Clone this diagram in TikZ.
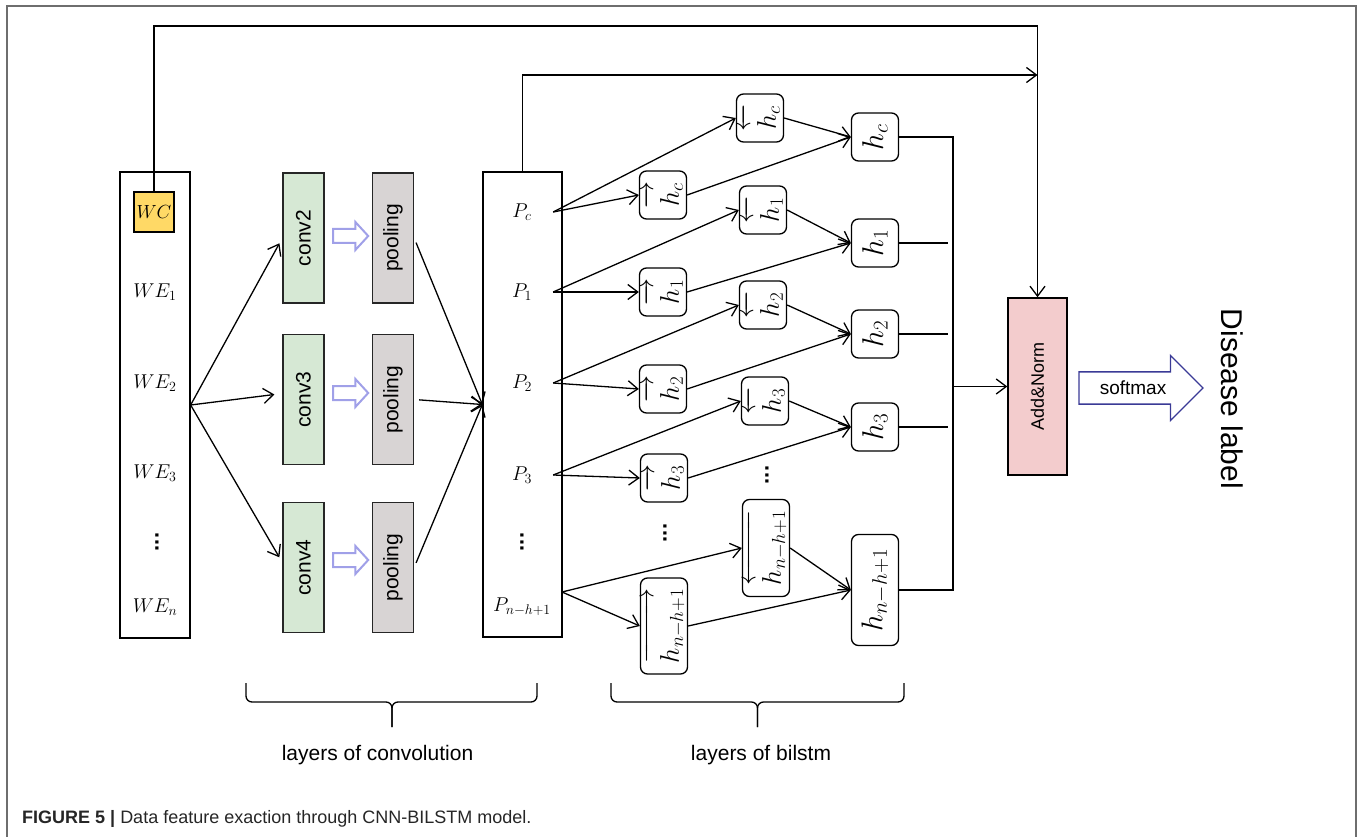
\RequirePackage{fix-cm}
\documentclass[tikz,border=0pt]{standalone}
\usepackage{amsmath}
\usepackage{graphicx}
\usepackage{fontspec}
\setmainfont{Liberation Sans}
\usetikzlibrary{arrows.meta,shapes.arrows,calc}

\definecolor{wcyellow}{RGB}{255,217,102}
\definecolor{convgreen}{RGB}{214,232,212}
\definecolor{poolgray}{RGB}{216,212,212}
\definecolor{normpink}{RGB}{243,204,205}
\definecolor{lavender}{RGB}{160,160,232}
\definecolor{softblue}{RGB}{58,58,150}
\definecolor{framegray}{RGB}{110,110,110}

\newcommand{\vtext}[1]{\rotatebox{90}{#1}}
\newcommand{\bwd}[1]{\rotatebox{90}{$\overleftarrow{\rule{0pt}{0.95em}#1}$}}
\newcommand{\fwd}[1]{\rotatebox{90}{$\overrightarrow{\rule{0pt}{0.95em}#1}$}}
\newcommand{\vdotsbig}{\rotatebox{90}{\textbf{...}}}

\tikzset{
  arr/.style={-{Straight Barb[length=10pt,width=15pt]},line width=1.3pt},
  wire/.style={line width=1.3pt},
  column/.style={draw,line width=1.3pt,inner sep=0pt},
  wcbox/.style={draw,line width=1.3pt,fill=wcyellow,minimum width=40pt,minimum height=40pt,inner sep=0pt,font=\fontsize{19}{22}\selectfont},
  mlab/.style={inner sep=0pt,font=\fontsize{20}{24}\selectfont},
  dotlab/.style={inner sep=0pt,font=\fontsize{22}{26}\selectfont},
  layer/.style={draw=black!85,line width=1.3pt,minimum width=41pt,minimum height=130pt,inner sep=0pt,font=\fontsize{21}{24}\selectfont},
  conv/.style={layer,fill=convgreen},
  pool/.style={layer,fill=poolgray},
  hollow/.style={single arrow,draw=lavender,fill=white,line width=2pt,minimum height=35pt,minimum width=26pt,inner sep=0pt,inner ysep=6pt,single arrow head extend=7pt,single arrow tip angle=95},
  cell/.style={draw,line width=1.3pt,rounded corners=7pt,minimum width=47pt,minimum height=48pt,inner sep=0pt,font=\fontsize{27}{30}\selectfont},
  outcell/.style={cell,font=\fontsize{30}{34}\selectfont},
  normbox/.style={draw,line width=1.5pt,fill=normpink,minimum width=59pt,minimum height=177pt,inner sep=0pt,font=\fontsize{18}{22}\selectfont},
  softarrow/.style={single arrow,draw=softblue,fill=white,line width=1.3pt,minimum height=124pt,minimum width=64pt,inner xsep=6pt,inner ysep=8.5pt,single arrow head extend=16.5pt,single arrow tip angle=90,font=\fontsize{19}{22}\selectfont},
  brace/.style={line width=1.3pt,rounded corners=6pt},
  caplab/.style={font=\fontsize{21}{24}\selectfont}
}

\begin{document}
\begin{tikzpicture}[x=1pt,y=-1pt]
    \useasboundingbox (0,0) rectangle (1363,837);
    % frame of the figure
    \draw[framegray,line width=1.5pt] (7,837) -- (7,6) -- (1356,6) -- (1356,837);

    % input column
    \node[column,minimum width=70pt,minimum height=466pt] (emb) at (155,405) {};
    \node[wcbox] (wc) at (154,212) {$WC$};
    \node[mlab] (we1) at (155,292) {$WE_1$};
    \node[mlab] (we2) at (155,383) {$WE_2$};
    \node[mlab] (we3) at (155,473) {$WE_3$};
    \node[dotlab] (wedots) at (157,542) {\vdotsbig};
    \node[mlab] (wen) at (155,607) {$WE_n$};

    % pooled features
    \node[column,minimum width=79pt,minimum height=465pt] (pcol) at (522.5,404.5) {};
    \node[mlab,minimum width=62pt] (pc) at (522,212) {$P_c$};
    \node[mlab,minimum width=62pt] (p1) at (522,292) {$P_1$};
    \node[mlab,minimum width=62pt] (pp2) at (522,383) {$P_2$};
    \node[mlab,minimum width=62pt] (pp3) at (522,475) {$P_3$};
    \node[dotlab] (pdots) at (522,542) {\vdotsbig};
    \node[mlab] (pn) at (522,607) {$P_{n-h+1}$};
    \coordinate (pnout) at (562,592);

    % convolution and pooling
    \node[conv] (c2) at (303.5,238) {\vtext{conv2}};
    \node[conv] (c3) at (303.5,399.5) {\vtext{conv3}};
    \node[conv] (c4) at (303.5,567.5) {\vtext{conv4}};
    \node[pool] (p2) at (393,238) {\vtext{pooling}};
    \node[pool] (p3) at (393,399.5) {\vtext{pooling}};
    \node[pool] (p4) at (393,567.5) {\vtext{pooling}};
    \node[hollow] (t2) at (347.5,236) {};
    \node[hollow] (t3) at (347.5,393) {};
    \node[hollow] (t4) at (347.5,560) {};

    \draw[arr,shorten >=6pt] (emb.east) -- (c2.west);
    \draw[arr,shorten >=8pt] (emb.east) -- ($(c3.west)+(0,-6)$);
    \draw[arr,shorten >=6pt] (emb.east) -- ($(c4.west)+(0,-5)$);
    \draw[arr,shorten <=5pt] (p2.east) -- (pcol.west);
    \draw[arr,shorten <=5pt] (p3.east) -- (pcol.west);
    \draw[arr,shorten <=5pt] (p4.east) -- (pcol.west);

    % bilstm cells
    \node[cell] (bc) at (760,118) {\bwd{h_c}};
    \node[cell] (fc) at (663,195) {\fwd{h_c}};
    \node[outcell] (oc) at (875,137) {\vtext{$h_c$}};
    \node[cell] (b1) at (763,210) {\bwd{h_1}};
    \node[cell] (f1) at (663,292) {\fwd{h_1}};
    \node[outcell] (o1) at (875,243) {\vtext{$h_1$}};
    \node[cell] (b2) at (763,305) {\bwd{h_2}};
    \node[cell] (f2) at (663,389) {\fwd{h_2}};
    \node[outcell] (o2) at (875,334) {\vtext{$h_2$}};
    \node[cell] (b3) at (765,401) {\bwd{h_3}};
    \node[cell] (f3) at (664,478) {\fwd{h_3}};
    \node[outcell] (o3) at (875,427) {\vtext{$h_3$}};
    \node[dotlab] (fdots) at (665,533) {\vdotsbig};
    \node[dotlab] (bdots) at (767,475) {\vdotsbig};
    \node[cell,minimum height=97pt] (bn) at (766,548) {\bwd{h_{n-h+1}}};
    \node[cell,minimum height=96pt] (fn) at (664,626) {\fwd{h_{n-h+1}}};
    \node[outcell,minimum height=111pt] (on) at (875,590) {\vtext{$h_{n-h+1}$}};

    \draw[arr] (pc.east) -- (bc.west);
    \draw[arr] (pc.east) -- (fc.west);
    \draw[arr] (p1.east) -- (b1.west);
    \draw[arr] (p1.east) -- (f1.west);
    \draw[arr] (pp2.east) -- (b2.west);
    \draw[arr] (pp2.east) -- (f2.west);
    \draw[arr] (pp3.east) -- (b3.west);
    \draw[arr] (pp3.east) -- (f3.west);
    \draw[arr] (pnout) -- (bn.west);
    \draw[arr] (pnout) -- (fn.west);

    \draw[arr] (bc.east) -- (oc.west);
    \draw[arr] (fc.east) -- (oc.west);
    \draw[arr] (b1.east) -- (o1.west);
    \draw[arr] (f1.east) -- (o1.west);
    \draw[arr] (b2.east) -- (o2.west);
    \draw[arr] (f2.east) -- (o2.west);
    \draw[arr] (b3.east) -- (o3.west);
    \draw[arr] (f3.east) -- (o3.west);
    \draw[arr] (bn.east) -- (on.west);
    \draw[arr] (fn.east) -- (on.west);

    % merge into Add&Norm
    \node[normbox] (norm) at (1037.5,386.5) {\vtext{Add\&Norm}};
    \coordinate (join) at (953,590);
    \draw[wire] (oc.east) -| (join) -- (on.east);
    \draw[line width=2pt] (o1.east) -- ++(49,0);
    \draw[line width=2pt] (o2.east) -- ++(49,0);
    \draw[line width=2pt] (o3.east) -- ++(49,0);
    \draw[arr] (join |- norm.west) -- (norm.west);

    % skip connections
    \coordinate (wctop) at (154,26);
    \coordinate (ptop) at (522.5,75);
    \draw[arr] (wc.north) -- (wctop) -| (norm.north);
    \draw[arr] (pcol.north) -- (ptop) -- (ptop -| norm.north);

    % output
    \node[softarrow] (soft) at (1133,388) {softmax};
    \node[font=\fontsize{30}{36}\selectfont,rotate=-90] (dis) at (1232,399) {Disease label};

    % braces
    \draw[brace] (246,683) -- (246,702) -- (392,702) -- (392,727);
    \draw[brace] (537,683) -- (537,702) -- (392,702) -- (392,727);
    \draw[brace] (611,683) -- (611,702) -- (757.5,702) -- (757.5,727);
    \draw[brace] (904,683) -- (904,702) -- (757.5,702) -- (757.5,727);
    \node[caplab] (convlab) at (377.5,755) {layers of convolution};
    \node[caplab] (bilab) at (761,755) {layers of bilstm};

    % caption
    \node[anchor=base west,inner sep=0pt,font=\fontsize{18}{21}\selectfont,text=black!85] (caption) at (22,823) {\textbf{FIGURE 5 |} Data feature exaction through CNN-BILSTM model.};
\end{tikzpicture}
\end{document}
